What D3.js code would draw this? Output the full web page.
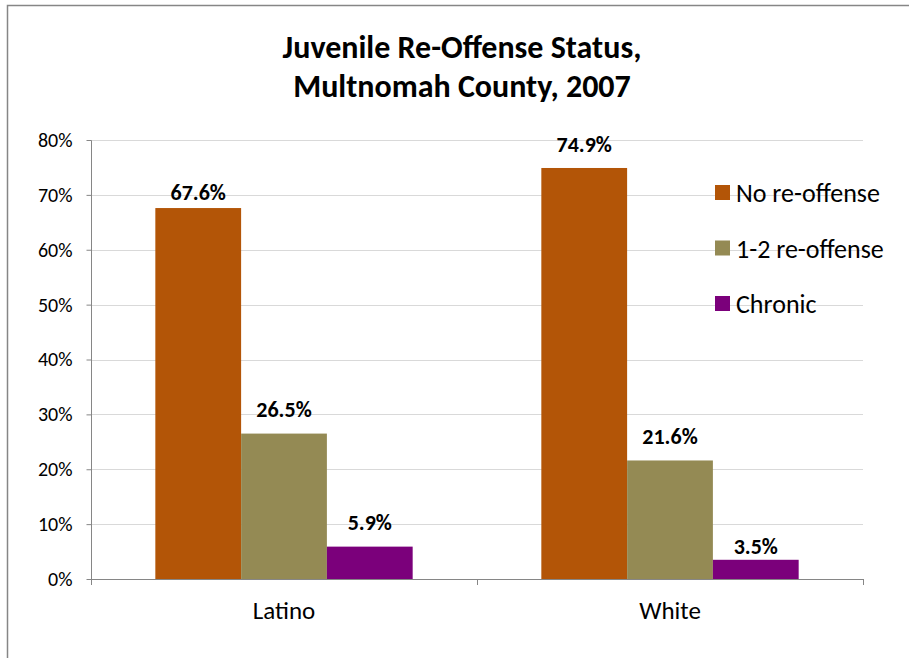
<!DOCTYPE html>
<html><head><meta charset="utf-8">
<script src="https://cdn.jsdelivr.net/npm/d3@7/dist/d3.min.js"></script>
<style>body{margin:0;background:#fff}svg{display:block}text{font-family:Carlito,Lato,"Liberation Sans",sans-serif}</style>
</head><body>
<svg id="c" width="909" height="658"></svg>
<script>
const categories = ["Latino", "White"];
const seriesNames = ["No re-offense", "1-2 re-offense", "Chronic"];
const noReoffense = [67.6, 74.9];
const reoffense12 = [26.5, 21.6];
const chronic = [5.9, 3.5];
const yTicks = [0, 10, 20, 30, 40, 50, 60, 70, 80];
const colors = ["#B35507", "#948A54", "#7B007B"];
const titleLines = ["Juvenile Re-Offense Status,", "Multnomah County, 2007"];

const series = [noReoffense, reoffense12, chronic];
// label gap above bar top (layout only), indexed [series][category]
const labelGap = [[8, 16], [17, 16], [17, 6]];
const FONT = 'Carlito,Lato,"Liberation Sans",sans-serif';
const svg = d3.select("#c");

// outer frame
svg.append("path").attr("d","M7.5,658 L7.5,5.5 L909,5.5").attr("fill","none").attr("stroke","#868686").attr("stroke-width",1.5);

const x0 = d3.scaleBand().domain(categories).range([91, 863]).paddingInner(0).paddingOuter(0);
const x1 = d3.scaleBand().domain(seriesNames).range([0, x0.bandwidth()]).paddingInner(0).paddingOuter(0.75);
const y = d3.scaleLinear().domain([0, 80]).range([579, 140]);

// gridlines
svg.append("g").selectAll("line").data(yTicks.filter(d=>d>0)).join("line")
  .attr("x1",91).attr("x2",863).attr("y1",d=>Math.round(y(d))+0.5).attr("y2",d=>Math.round(y(d))+0.5)
  .attr("stroke","#D9D9D9").attr("stroke-width",1);

// y axis
const yAxis = svg.append("g").attr("transform","translate(91.5,0)")
  .call(d3.axisLeft(y).tickValues(yTicks).tickFormat(d=>d+"%").tickSize(5).tickPadding(14));
yAxis.selectAll("path,line").attr("stroke","#868686");
yAxis.select(".domain").attr("d","M0,140.5V579.5");
yAxis.selectAll("text").attr("font-size",20).attr("fill","#000").attr("font-family",FONT);

// bars
const groups = svg.append("g").selectAll("g").data(categories).join("g")
  .attr("transform",d=>`translate(${x0(d)},0)`);
const rows = (c,ci)=>seriesNames.map((s,si)=>({s,si,ci,v:series[si][ci]}));
groups.selectAll("rect").data(rows).join("rect")
  .attr("x",d=>x1(d.s)).attr("width",x1.bandwidth())
  .attr("y",d=>y(d.v)).attr("height",d=>y(0)-y(d.v))
  .attr("fill",d=>colors[d.si]);
groups.selectAll("text").data(rows).join("text")
  .attr("x",d=>x1(d.s)+x1.bandwidth()/2).attr("y",d=>y(d.v)-labelGap[d.si][d.ci])
  .attr("text-anchor","middle").attr("font-weight","bold").attr("font-size",22)
  .text(d=>d.v.toFixed(1)+"%");

// x axis
const xAxis = svg.append("g").attr("transform","translate(0,579.5)")
  .call(d3.axisBottom(x0).tickSize(0).tickPadding(22));
xAxis.select(".domain").attr("stroke","#868686").attr("d","M91,0H863");
xAxis.selectAll("text").attr("font-size",25).attr("fill","#000").attr("font-family",FONT);
svg.append("g").selectAll("line").data([91, x0("White"), 863]).join("line")
  .attr("x1",d=>Math.round(d)+0.5).attr("x2",d=>Math.round(d)+0.5).attr("y1",579).attr("y2",585)
  .attr("stroke","#868686");

// title
svg.append("g").selectAll("text").data(titleLines).join("text")
  .attr("x",462).attr("y",(d,i)=>58+i*39).attr("text-anchor","middle")
  .attr("font-weight","bold").attr("font-size",32).text(d=>d);

// legend
const lg = svg.append("g").selectAll("g").data(seriesNames).join("g")
  .attr("transform",(d,i)=>`translate(715,${193+i*55.5})`);
lg.append("rect").attr("x",0).attr("y",-8).attr("width",15).attr("height",15).attr("fill",(d,i)=>colors[i]);
lg.append("text").attr("x",21).attr("y",9).attr("font-size",26).text(d=>d);
</script>
</body></html>
